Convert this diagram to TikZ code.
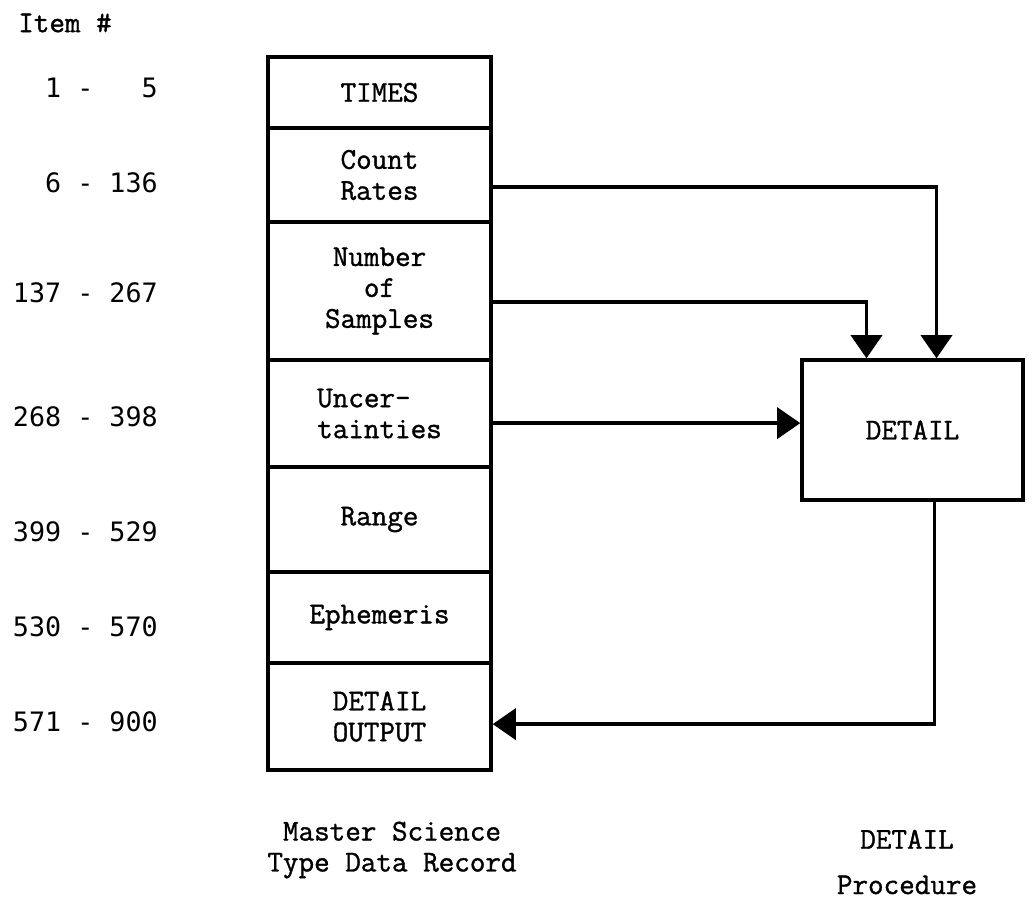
\documentclass[tikz,border=0pt]{standalone}
\usepackage{fontspec}
\usepackage{tikz}
\usetikzlibrary{arrows.meta,positioning}
\newfontfamily\numfont{DejaVu Sans Mono}
\newfontfamily\twfont[FakeBold=1.2]{Latin Modern Mono}
\tikzset{
  row/.style={draw,line width=2.4pt,inner sep=0pt,minimum width=5.575cm,align=center,
    font=\fontsize{21.5}{22}\selectfont\twfont},
  proc/.style={draw,line width=2.4pt,inner sep=0pt,align=center,
    font=\fontsize{21.5}{22}\selectfont\twfont},
  lbl/.style={inner sep=0pt,align=center,font=\fontsize{21.5}{22}\selectfont\twfont},
  itemno/.style={inner sep=0pt,anchor=east,font=\fontsize{19}{21}\selectfont\numfont},
  arrow/.style={-{Triangle[length=5.8mm,width=7.8mm]},line width=2.4pt}
}

\begin{document}
\begin{tikzpicture}[x=0.025cm,y=-0.025cm]
  \useasboundingbox (0,0) rectangle (1032,903);
  % record layout
  \node[row,minimum height=1.775cm] (times) at (379.5,92.5) {TIMES};
  \node[row,minimum height=2.35cm] (cnt) at (379.5,175) {Count\\Rates};
  \node[row,minimum height=3.45cm] (nsmp) at (379.5,291) {Number\\of\\Samples};
  \node[row,minimum height=2.675cm,align=left] (unc) at (379.5,413.5) {Uncer-\\tainties};
  \node[row,minimum height=2.625cm] (rng) at (379.5,519.5) {Range};
  \node[row,minimum height=2.275cm] (eph) at (379.5,617.5) {Ephemeris};
  \node[row,minimum height=2.675cm] (dout) at (379.5,716.5) {DETAIL\\OUTPUT};
  % item numbers
  \node[lbl,anchor=west] (itemhd) at (18,23) {Item \#};
  \node[itemno] (n1) at (158,88) {1 - \phantom{13}5};
  \node[itemno] (n2) at (158,183) {6 - 136};
  \node[itemno] (n3) at (158,293) {137 - 267};
  \node[itemno] (n4) at (158,417) {268 - 398};
  \node[itemno] (n5) at (158,532) {399 - 529};
  \node[itemno] (n6) at (158,627) {530 - 570};
  \node[itemno] (n7) at (158,722) {571 - 900};
  % procedure
  \node[proc,minimum width=5.525cm,minimum height=3.5cm] (detail) at (912.5,430) {DETAIL};
  \draw[arrow] ([yshift=-0.3cm]cnt.east) -| ([xshift=0.6cm]detail.north);
  \draw[arrow] ([yshift=-0.275cm]nsmp.east) -| ([xshift=-1.15cm]detail.north);
  \draw[arrow] ([yshift=-0.24cm]unc.east) -- ([yshift=-0.24cm]unc.east -| detail.west);
  \draw[arrow] ([xshift=0.55cm]detail.south) |- ([yshift=-0.19cm]dout.east);
  % captions
  \node[lbl] (recname) at (392,850) {Master Science\\Type Data Record};
  \node[lbl] (procname) at (907,862) {DETAIL\\[0.36cm]Procedure};
\end{tikzpicture}
\end{document}
